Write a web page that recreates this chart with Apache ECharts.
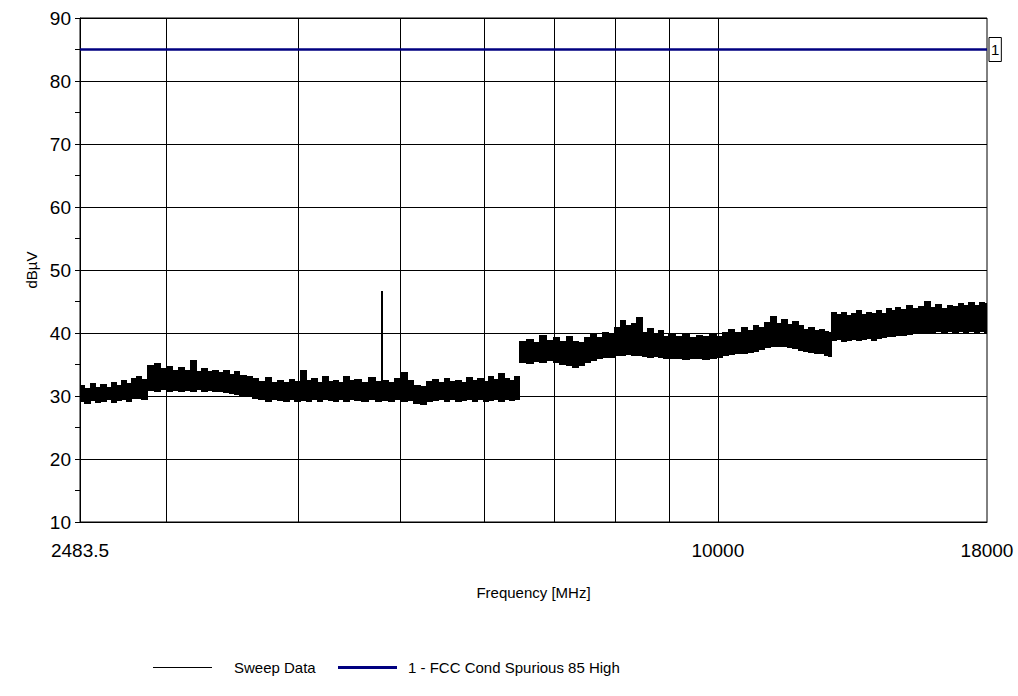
<!DOCTYPE html>
<html>
<head>
<meta charset="utf-8">
<script src="https://cdn.jsdelivr.net/npm/echarts@6/dist/echarts.min.js"></script>
<style>html,body{margin:0;padding:0;background:#fff}#c{width:1018px;height:696px}</style>
</head>
<body>
<div id="c"></div>
<script>
// ---- data ----
// sweep: bin start frequency (MHz), lower and upper edge of the noisy trace (dBuV)
const sweepFreq = [
  2483.5,2510,2540,2570,2600,2630,2660,2690,2720,2750,2780,2810,2840,
  2880,2920,2960,3000,3040,3080,3120,3160,3200,3240,3280,3320,3360,3400,3440,3480,3520,
  3576,3620,3670,3720,3770,3820,3870,3920,3970,4020,4070,4120,4170,4220,4270,4320,4370,4420,4470,
  4520,4590,4660,4730,4796,4808,4870,4940,5010,5080,5150,5220,5290,5360,5430,5500,5570,5640,5710,
  5780,5850,5920,5990,6060,6130,6200,6270,6340,6410,
  6478,6580,6680,6780,6880,6980,7080,7180,7280,7380,7480,7580,7680,7780,7880,7980,8080,8180,8280,
  8380,8480,8580,8680,8780,8880,8980,9120,9260,9400,9540,9680,9820,9960,10100,10240,10380,10520,
  10660,10800,10940,11080,11220,11360,11500,11640,11780,11920,12060,12200,12340,12480,12620,12740,
  12806,12950,13100,13250,13400,13550,13700,13850,14000,14150,14300,14450,14600,14750,14900,
  15100,15300,15500,15700,15900,16100,16300,16500,16700,16900,17100,17300,17500,17700,17900
];
const sweepLo = [
  29.1,28.8,29.2,28.9,29.0,29.3,28.9,29.2,29.4,29.1,29.5,29.6,29.4,
  30.8,30.7,30.9,30.7,30.8,30.6,30.8,30.7,30.9,30.7,30.8,30.6,30.7,30.5,30.3,30.1,29.9,
  29.8,29.5,29.3,29.1,29.4,29.2,29.0,29.3,29.1,29.2,29.0,29.3,29.1,29.4,29.2,29.0,29.3,29.1,29.4,
  29.2,29.0,29.3,29.1,29.2,29.2,29.0,29.3,29.1,29.2,28.8,28.6,29.0,29.2,29.4,29.1,29.3,29.0,29.2,
  29.4,29.1,29.3,29.0,29.2,29.4,29.1,29.3,29.2,29.4,
  35.3,35.1,35.4,35.3,35.5,35.2,34.9,34.7,34.5,34.8,35.3,35.6,35.8,36.0,36.1,36.3,36.4,36.5,36.3,
  36.4,36.2,36.1,36.2,36.0,35.9,35.8,35.9,35.7,35.8,35.9,35.7,35.8,36.0,36.3,36.5,36.7,36.6,
  36.8,37.0,37.3,37.6,37.8,37.7,37.8,37.6,37.4,37.2,37.0,36.8,36.7,36.6,36.4,36.2,
  38.7,38.9,38.6,38.8,38.9,38.7,38.9,39.0,38.8,39.1,39.2,39.3,39.4,39.5,39.6,
  39.7,39.8,39.9,40.0,40.0,40.1,40.0,40.1,40.0,40.1,40.0,40.1,40.0,40.2,40.0
];
const sweepHi = [
  31.8,31.2,32.0,31.5,31.9,31.4,32.3,31.8,32.6,32.1,32.8,33.2,32.7,
  34.9,35.3,34.5,34.8,34.2,34.6,34.1,35.7,34.0,34.4,33.9,34.2,33.8,34.1,33.5,33.9,33.3,
  33.2,32.9,32.4,33.0,32.3,32.6,32.2,32.7,32.4,34.1,32.5,32.8,32.3,33.1,32.4,32.6,32.2,33.2,32.5,
  32.7,32.3,33.0,32.4,46.7,32.6,32.3,32.8,33.8,32.5,31.8,31.6,32.4,32.7,32.3,32.8,32.4,32.6,32.2,
  33.0,32.5,32.8,32.4,33.2,32.7,33.6,32.9,32.6,33.1,
  38.7,39.0,38.6,39.7,38.9,39.3,38.7,39.6,38.8,38.6,39.3,39.9,39.4,40.1,39.9,41.0,42.0,41.2,41.6,
  42.5,40.2,40.8,39.8,40.5,39.6,40.0,39.5,39.8,39.4,39.7,39.5,39.9,39.6,40.1,40.6,40.2,41.0,
  40.4,41.3,40.9,41.8,42.7,41.6,42.3,41.5,41.9,41.3,40.6,41.0,40.4,40.7,40.3,40.2,
  43.4,43.0,43.3,42.8,43.2,43.6,43.0,43.4,43.1,43.7,43.2,44.0,43.6,44.2,43.8,
  44.4,43.9,44.3,45.1,44.2,44.6,44.0,44.5,44.3,44.8,44.4,44.9,44.5,45.0,44.7
];
const freqMin = 2483.5, freqMax = 18000;
const limitValue = 85;
const xGridFreqs = [3000,4000,5000,6000,7000,8000,9000,10000];
const xTickLabels = [2483.5, 10000, 18000];
const yMin = 10, yMax = 90, yStep = 10;
const limitTag = '1';
const seriesNames = ['Sweep Data', '1 - FCC Cond Spurious 85 High'];

// ---- build series data ----
const sweepBins = sweepFreq.map((f, i) => [f, i + 1 < sweepFreq.length ? sweepFreq[i + 1] : freqMax, sweepLo[i], sweepHi[i]]);
const limitData = [[freqMin, limitValue], [freqMax, limitValue]];

const FONT = '"Liberation Sans", Arial, sans-serif';
const chart = echarts.init(document.getElementById('c'), null, {renderer: 'svg'});
chart.setOption({
  animation: false,
  backgroundColor: '#fff',
  grid: {left: 80, right: 31, top: 18, bottom: 174, show: true, borderColor: '#000', borderWidth: 1, backgroundColor: 'transparent'},
  xAxis: {
    type: 'log', logBase: 10, min: freqMin, max: freqMax,
    name: 'Frequency [MHz]', nameLocation: 'middle', nameGap: 63,
    nameTextStyle: {fontFamily: FONT, fontSize: 15, color: '#000'},
    axisLine: {show: true, lineStyle: {color: '#000', width: 1}},
    axisTick: {show: false},
    splitLine: {show: false},
    minorTick: {show: false}, minorSplitLine: {show: false},
    axisLabel: {
      show: true, showMinLabel: true, showMaxLabel: true, hideOverlap: false,
      fontFamily: FONT, fontSize: 19, color: '#000', margin: 19,
      formatter: v => { const t = xTickLabels.find(t => Math.abs(t - v) / t < 0.002); return t !== undefined ? String(t) : ''; }
    }
  },
  yAxis: {
    type: 'value', min: yMin, max: yMax, interval: yStep,
    name: 'dBµV', nameLocation: 'middle', nameGap: 33,
    nameTextStyle: {fontFamily: FONT, fontSize: 15, color: '#000'},
    axisLine: {show: true, lineStyle: {color: '#000', width: 1}},
    axisTick: {show: true, length: 5, lineStyle: {color: '#000', width: 1}},
    minorTick: {show: true, splitNumber: 2, length: 5, lineStyle: {color: '#000', width: 1}},
    splitLine: {show: true, lineStyle: {color: '#000', width: 1}},
    axisLabel: {fontFamily: FONT, fontSize: 19, color: '#000', margin: 9}
  },
  legend: [
    {
      data: [{name: seriesNames[0], icon: 'rect'}],
      left: 148, top: 655, itemWidth: 59, itemHeight: 1, selectedMode: false,
      textStyle: {fontFamily: FONT, fontSize: 15, color: '#000', padding: [0, 0, 0, 17]}
    },
    {
      data: [{name: seriesNames[1], icon: 'rect'}],
      left: 333, top: 655, itemWidth: 59, itemHeight: 3, selectedMode: false,
      textStyle: {fontFamily: FONT, fontSize: 15, color: '#000', padding: [0, 0, 0, 6]}
    }
  ],
  series: [
    {
      name: seriesNames[0], type: 'custom', z: 3,
      itemStyle: {color: '#000'},
      encode: {x: [0, 1], y: [2, 3]},
      data: sweepBins,
      renderItem: (params, api) => {
        const a = api.coord([api.value(0), api.value(3)]);
        const b = api.coord([api.value(1), api.value(2)]);
        const x0 = Math.floor(a[0]), x1 = Math.max(x0 + 1, Math.ceil(b[0]));
        const y0 = Math.round(a[1]), y1 = Math.round(b[1]);
        return {type: 'rect', shape: {x: x0, y: y0, width: x1 - x0, height: y1 - y0},
                style: {fill: '#000'}};
      }
    },
    {
      name: seriesNames[1], type: 'line', z: 4,
      data: limitData, symbol: 'none', silent: true,
      itemStyle: {color: '#000080'},
      lineStyle: {color: '#000080', width: 2.5},
      endLabel: {
        show: true, formatter: limitTag, fontFamily: FONT, fontSize: 15, color: '#000',
        borderColor: '#000', borderWidth: 1, padding: [5, 2, 4, 2], distance: 2
      },
      markLine: {
        silent: true, symbol: 'none', z: 1,
        label: {show: false},
        lineStyle: {color: '#000', width: 1, type: 'solid'},
        data: xGridFreqs.map(f => ({xAxis: f}))
      }
    }
  ]
});
</script>
</body>
</html>
